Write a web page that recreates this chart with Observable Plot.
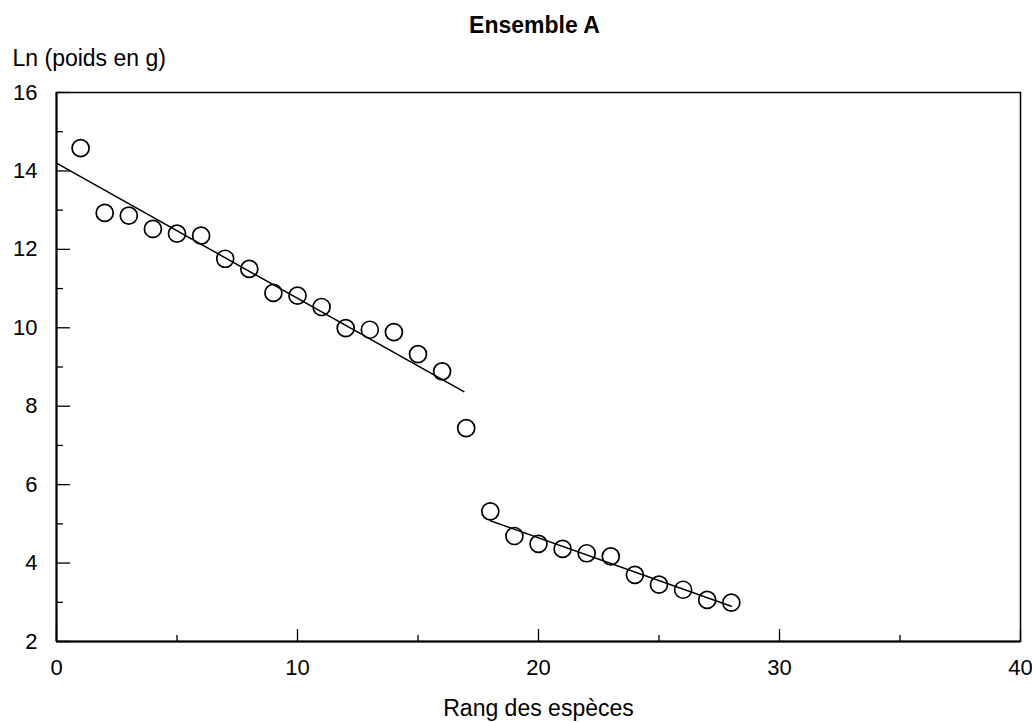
<!DOCTYPE html>
<html>
<head>
<meta charset="utf-8">
<script src="https://cdn.jsdelivr.net/npm/d3@7"></script>
<script src="https://cdn.jsdelivr.net/npm/@observablehq/plot@0.6"></script>
<style>
  html, body { margin: 0; padding: 0; background: #fff; }
</style>
</head>
<body>
<div id="chart"></div>
<script>
// ---- Data ----
const title = "Ensemble A";
const yLabel = "Ln (poids en g)";
const xLabel = "Rang des espèces";

const rank = [1, 2, 3, 4, 5, 6, 7, 8, 9, 10, 11, 12, 13, 14, 15, 16, 17, 18, 19, 20, 21, 22, 23, 24, 25, 26, 27, 28];
const lnWeight = [14.58, 12.93, 12.86, 12.52, 12.40, 12.35, 11.76, 11.50, 10.89, 10.82, 10.53, 9.99, 9.95, 9.89, 9.33, 8.89, 7.44,
                  5.32, 4.69, 4.49, 4.36, 4.25, 4.17, 3.70, 3.45, 3.32, 3.06, 2.99];

// regression segments (end points)
const fit1X = [0, 16.9];
const fit1Y = [14.2, 8.37];
const fit2X = [18, 28];
const fit2Y = [5.08, 2.9];

const xDomain = [0, 40];
const yDomain = [2, 16];
const xMajorTicks = [0, 10, 20, 30, 40];
const xMinorTicks = [5, 15, 25, 35];
const yMajorTicks = [2, 4, 6, 8, 10, 12, 14, 16];
const yMinorTicks = [3, 5, 7, 9, 11, 13, 15];

// ---- Build tables ----
const points = rank.map((r, i) => ({rank: r, ln: lnWeight[i]}));
const fit1 = fit1X.map((x, i) => ({x, y: fit1Y[i]}));
const fit2 = fit2X.map((x, i) => ({x, y: fit2Y[i]}));

const font = "'Liberation Sans', Arial, Helvetica, sans-serif";

const chart = Plot.plot({
  width: 1032,
  height: 722,
  marginLeft: 56,
  marginRight: 12,
  marginTop: 92,
  marginBottom: 81,
  style: {fontFamily: font, fontSize: "22px", color: "#000", background: "#fff", overflow: "visible"},
  x: {domain: xDomain},
  y: {domain: yDomain},
  marks: [
    Plot.frame({stroke: "#000", strokeWidth: 1.5}),
    Plot.ruleX([xDomain[0]], {stroke: "#000", strokeWidth: 2}),
    Plot.ruleY([yDomain[0]], {stroke: "#000", strokeWidth: 2}),
    // tick labels
    Plot.axisX(xMajorTicks, {tickSize: 0, tickPadding: 18, fontSize: 22, label: null}),
    Plot.axisY(yMajorTicks, {tickSize: 0, tickPadding: 19, fontSize: 22, label: null}),
    // inward ticks
    Plot.axisX(xMajorTicks, {tickSize: -12, tickFormat: () => "", label: null, strokeWidth: 1.3}),
    Plot.axisX(xMinorTicks, {tickSize: -6, tickFormat: () => "", label: null, strokeWidth: 1.3}),
    Plot.axisY(yMajorTicks, {tickSize: -14, tickFormat: () => "", label: null, strokeWidth: 1.3}),
    Plot.axisY(yMinorTicks, {tickSize: -7, tickFormat: () => "", label: null, strokeWidth: 1.3}),
    // regression lines
    Plot.line(fit1, {x: "x", y: "y", stroke: "#000", strokeWidth: 1.5}),
    Plot.line(fit2, {x: "x", y: "y", stroke: "#000", strokeWidth: 1.5}),
    // data points
    Plot.dot(points, {x: "rank", y: "ln", r: 8.5, stroke: "#000", strokeWidth: 1.7, fill: "none"}),
    // titles
    Plot.text([title], {frameAnchor: "top", dx: -4, dy: -60, lineAnchor: "bottom", fontWeight: "bold", fontSize: 23, fill: "#000"}),
    Plot.text([yLabel], {frameAnchor: "top-left", dx: -44, dy: -27, lineAnchor: "bottom", textAnchor: "start", fontSize: 23, fill: "#000"}),
    Plot.text([xLabel], {frameAnchor: "bottom", dx: 0, dy: 74, lineAnchor: "bottom", fontSize: 23, fill: "#000"})
  ]
});

document.getElementById("chart").append(chart);
</script>
</body>
</html>
